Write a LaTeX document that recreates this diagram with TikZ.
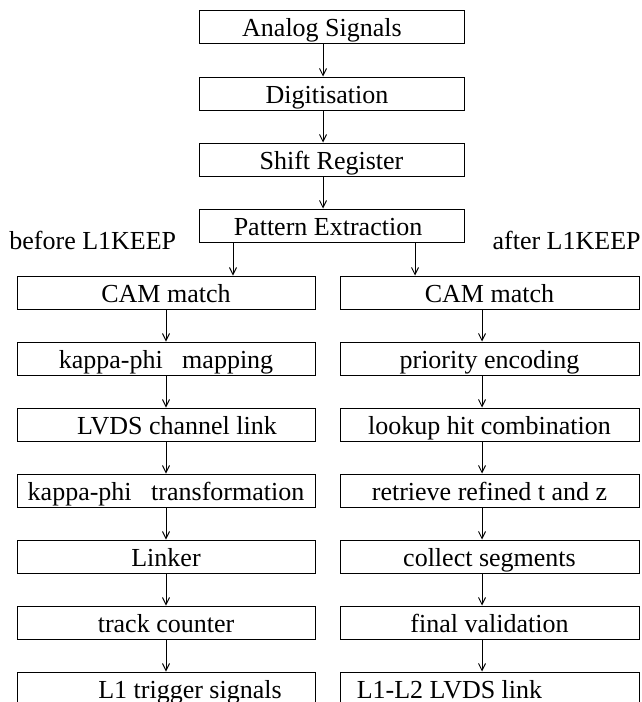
\documentclass[tikz,border=0pt]{standalone}
\usepackage{fontspec}
\setmainfont{Liberation Serif}
\usetikzlibrary{arrows.meta}

\begin{document}
\begin{tikzpicture}[x=0.5pt,y=-0.5pt,
    every node/.style={font=\fontsize{13}{15}\selectfont,inner sep=0pt},
    box/.style={draw,line width=0.5pt,minimum height=16.5pt,
      text height=12.5pt,text depth=3pt},
    topbox/.style={box,minimum width=132.5pt},
    lbox/.style={box,minimum width=149pt},
    rbox/.style={box,minimum width=149.5pt},
    flow/.style={line width=0.5pt,-{Straight Barb[length=3.5pt,width=3.5pt]}},
  ]
  \path[use as bounding box,clip] (0,0) rectangle (642,702);

  % common chain
  \foreach \n/\y/\lab in {sig/27/{Analog Signals\hspace*{9.5pt}},
                          dig/93.5/{Digitisation\hspace*{4.5pt}},
                          shr/159.5/{Shift Register},
                          pat/225.5/{Pattern Extraction\hspace*{3.5pt}}} {
    \node[topbox] (\n) at (331.5,\y) {\lab};
  }
  % left branch
  \foreach \n/\y/\lab in {lcam/292.5/{CAM match},
                          lmap/358.5/{kappa-phi~~~mapping},
                          llvds/424.5/{\hspace*{11pt}LVDS channel link},
                          ltrans/490.5/{kappa-phi~~~transformation},
                          link/556.5/{Linker},
                          cnt/622.5/{track counter},
                          trig/688.5/{\hspace*{24pt}L1 trigger signals}} {
    \node[lbox] (\n) at (166,\y) {\lab};
  }
  % right branch
  \foreach \n/\y/\lab in {rcam/292.5/{CAM match},
                          prio/358.5/{priority encoding},
                          lut/424.5/{lookup hit combination},
                          ret/490.5/{retrieve refined t and z},
                          seg/556.5/{collect segments},
                          val/622.5/{final validation},
                          ltwo/688.5/{L1-L2 LVDS link\hspace*{40pt}}} {
    \node[rbox] (\n) at (489.5,\y) {\lab};
  }

  \node[anchor=base west] (before) at (9,249) {before L1KEEP};
  \node[anchor=base east] (after) at (641,249) {after L1KEEP};

  \coordinate (tx) at (323,0);
  \coordinate (sl) at (233,0);
  \coordinate (sr) at (415,0);
  \coordinate (rx) at (482,0);

  \foreach \a/\b in {sig/dig,dig/shr,shr/pat}
    \draw[flow] (\a.south -| tx) -- (\b.north -| tx);
  \draw[flow] (pat.south -| sl) -- (lcam.north -| sl);
  \draw[flow] (pat.south -| sr) -- (rcam.north -| sr);
  \foreach \a/\b in {lcam/lmap,lmap/llvds,llvds/ltrans,ltrans/link,link/cnt,cnt/trig}
    \draw[flow] (\a) -- (\b);
  \foreach \a/\b in {rcam/prio,prio/lut,lut/ret,ret/seg,seg/val,val/ltwo}
    \draw[flow] (\a.south -| rx) -- (\b.north -| rx);
\end{tikzpicture}
\end{document}
